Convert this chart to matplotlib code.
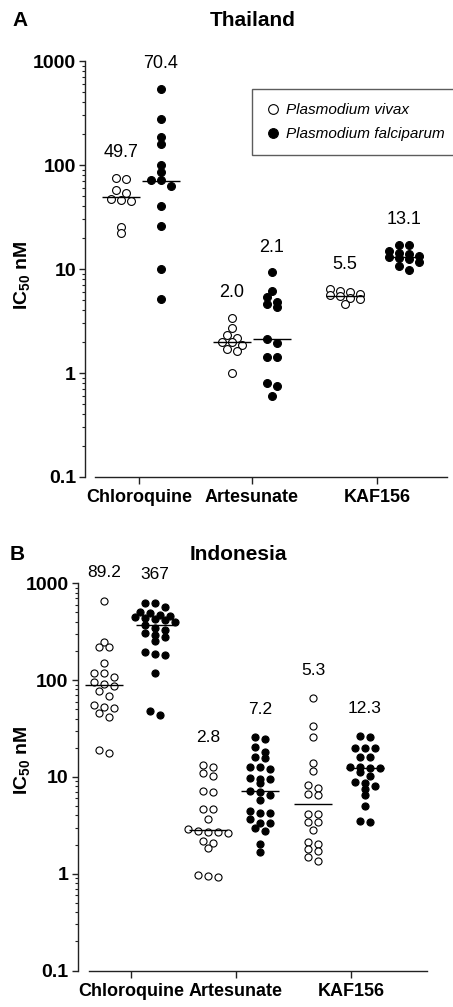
import numpy as np
import matplotlib
matplotlib.use("Agg")
import matplotlib.pyplot as plt
from matplotlib.lines import Line2D
from matplotlib.ticker import FixedLocator, LogLocator, NullFormatter

plt.rcParams["font.family"] = ["Liberation Sans", "DejaVu Sans"]
plt.rcParams["mathtext.fontset"] = "custom"
plt.rcParams["mathtext.rm"] = "Liberation Sans"
plt.rcParams["mathtext.bf"] = "Liberation Sans:bold"
plt.rcParams["mathtext.it"] = "Liberation Sans:italic"

drugs = ["Chloroquine", "Artesunate", "KAF156"]

# Panel A - Thailand (IC50, nM)
th_vivax = [
    [75.7, 73, 57, 54, 47, 46, 45, 25.5, 22.3],
    [3.4, 2.7, 2.3, 2.15, 2.0, 2.0, 1.85, 1.7, 1.62, 1.0],
    [6.4, 6.2, 6.0, 5.8, 5.6, 5.5, 5.3, 5.1, 4.6],
]
th_falc = [
    [540, 275, 186, 158, 101, 85, 71, 71, 63, 40, 26, 10, 5.1],
    [9.3, 6.2, 5.35, 4.8, 4.6, 4.3, 2.1, 1.94, 1.42, 1.42, 0.80, 0.75, 0.60],
    [17.2, 17.0, 15.0, 14.2, 14.0, 13.3, 13.1, 12.8, 12.5, 11.6, 10.8, 9.7],
]
th_med_vivax = [49.7, 2.0, 5.5]
th_med_falc = [70.4, 2.1, 13.1]
th_lab_vivax = ["49.7", "2.0", "5.5"]
th_lab_falc = ["70.4", "2.1", "13.1"]

# Panel B - Indonesia (IC50, nM)
in_vivax = [
    [661, 249, 221, 218, 149, 119, 119, 107, 96, 92, 87, 77, 68.5, 55, 53, 51,
     45.4, 41.3, 19, 17.5],
    [13.3, 12.7, 11.0, 10.2, 7.2, 7.0, 4.7, 4.7, 3.67, 2.88, 2.78, 2.72, 2.72,
     2.65, 2.18, 2.09, 1.83, 0.97, 0.95, 0.92],
    [64.9, 33.6, 26, 13.8, 11.5, 8.25, 7.6, 6.65, 6.5, 4.14, 4.14, 3.44, 3.44,
     2.83, 2.11, 2.03, 1.8, 1.73, 1.5, 1.35],
]
in_falc = [
    [631, 621, 573, 510, 490, 470, 455, 445, 440, 430, 420, 400, 367, 345, 330,
     310, 290, 280, 255, 195, 185, 180, 119, 48, 44],
    [25.6, 24.5, 20.2, 18.2, 15.9, 15.6, 12.7, 12.7, 12.0, 9.7, 9.4, 9.4, 8.6,
     7.2, 7.0, 6.5, 5.8, 4.4, 4.27, 4.27, 3.65, 3.36, 3.3, 2.94, 2.78, 2.03, 1.66],
    [26.4, 26, 19.7, 19.7, 19.7, 15.9, 15.9, 12.8, 12.6, 12.4, 12.3, 11.2, 10.2,
     8.9, 8.6, 8.1, 7.5, 6.5, 5.0, 3.53, 3.44],
]
in_med_vivax = [89.2, 2.8, 5.3]
in_med_falc = [367, 7.2, 12.3]
in_lab_vivax = ["89.2", "2.8", "5.3"]
in_lab_falc = ["367", "7.2", "12.3"]


def swarm(values, center, px_per_decade, spacing, thresh):
    # group points of similar height into rows and spread each row sideways
    vals = np.asarray(values, float)
    y = np.log10(vals) * px_per_decade
    order = np.argsort(-vals, kind="stable")
    rows = []
    for i in order:
        if rows and y[rows[-1][0]] - y[i] < thresh:
            rows[-1].append(i)
        else:
            rows.append([i])
    xs = np.zeros(len(vals))
    for row in rows:
        n = len(row)
        for k, i in enumerate(row):
            xs[i] = center + (k - (n - 1) / 2) * spacing
    return xs


def panel(ax, vivax, falc, med_v, med_f, lab_v, lab_f, ticks, cen_v, cen_f,
          xlim, xstart, ppd, msize, spacing, thresh, lab_off, lab_size):
    for i in range(3):
        for vals, cen, med, lab, face in [
            (vivax[i], cen_v[i], med_v[i], lab_v[i], "white"),
            (falc[i], cen_f[i], med_f[i], lab_f[i], "black"),
        ]:
            xs = swarm(vals, cen, ppd, spacing, thresh)
            ax.scatter(xs, vals, s=msize, facecolor=face, edgecolor="black",
                       linewidths=0.8, zorder=3, clip_on=False)
            ax.hlines(med, cen - 19, cen + 19, color="black", lw=1.0, zorder=4)
            ax.annotate(lab, (cen, max(vals)), xytext=(0, lab_off),
                        textcoords="offset points", ha="center", va="center",
                        fontsize=lab_size)
    ax.set_yscale("log")
    ax.set_ylim(0.1, 1600)
    ax.set_xlim(*xlim)
    ax.spines["top"].set_visible(False)
    ax.spines["right"].set_visible(False)
    ax.spines["left"].set_bounds(0.1, 1000)
    ax.spines["bottom"].set_bounds(xstart, xlim[1])
    for s in ["left", "bottom"]:
        ax.spines[s].set_linewidth(1.0)
        ax.spines[s].set_color("#222222")
    ax.yaxis.set_major_locator(FixedLocator([0.1, 1, 10, 100, 1000]))
    ax.set_yticklabels(["0.1", "1", "10", "100", "1000"], fontsize=14,
                       fontweight="bold")
    ax.yaxis.set_minor_locator(LogLocator(base=10, subs=np.arange(2, 10),
                                          numticks=20))
    ax.yaxis.set_minor_formatter(NullFormatter())
    ax.set_xticks(ticks)
    ax.set_xticklabels(drugs, fontsize=13, fontweight="bold")
    ax.tick_params(axis="y", which="major", length=4.5, width=1.0,
                   color="#222222", pad=2)
    ax.tick_params(axis="y", which="minor", length=2.5, width=0.8,
                   color="#222222")
    ax.tick_params(axis="x", length=5, width=1.0, color="#222222", pad=4)


fig = plt.figure(figsize=(4.53, 10.07), dpi=100)
W, H = 453, 1007

# Panel A
ax1 = fig.add_axes([85 / W, 1 - 477 / H, 362 / W, 437.2 / H])
panel(ax1, th_vivax, th_falc, th_med_vivax, th_med_falc, th_lab_vivax,
      th_lab_falc, ticks=[139, 252, 377], cen_v=[121, 232, 345],
      cen_f=[161, 272, 404], xlim=(85, 447), xstart=95, ppd=104,
      msize=32, spacing=10, thresh=6, lab_off=18, lab_size=13)
handles = [
    Line2D([], [], marker="o", ls="none", markersize=7, markerfacecolor="white",
           markeredgecolor="black", markeredgewidth=0.8),
    Line2D([], [], marker="o", ls="none", markersize=7, markerfacecolor="black",
           markeredgecolor="black", markeredgewidth=0.8),
]
leg = ax1.legend(handles, ["Plasmodium vivax", "Plasmodium falciparum"],
                 loc="upper left", bbox_to_anchor=(0.461, 0.887),
                 borderaxespad=0, frameon=True, fancybox=False,
                 prop={"style": "italic", "size": 11}, handletextpad=0.35,
                 handlelength=1.0, labelspacing=0.65, borderpad=0.9)
leg.get_frame().set_edgecolor("#333333")
leg.get_frame().set_linewidth(1.0)

# Panel B
ax2 = fig.add_axes([77.5 / W, 1 - 970.5 / H, (427 - 77.5) / W, 407 / H])
panel(ax2, in_vivax, in_falc, in_med_vivax, in_med_falc, in_lab_vivax,
      in_lab_falc, ticks=[131, 236, 351], cen_v=[104, 208, 313],
      cen_f=[155, 260, 365], xlim=(77.5, 427), xstart=89, ppd=96.8,
      msize=26, spacing=10, thresh=5, lab_off=20, lab_size=12.5)

# titles, panel letters, axis labels
fig.text(20 / W, 1 - 20 / H, "A", fontsize=15, fontweight="bold",
         ha="center", va="center")
fig.text(253 / W, 1 - 20 / H, "Thailand", fontsize=15, fontweight="bold",
         ha="center", va="center")
fig.text(17 / W, 1 - 554 / H, "B", fontsize=15, fontweight="bold",
         ha="center", va="center")
fig.text(238 / W, 1 - 554 / H, "Indonesia", fontsize=15, fontweight="bold",
         ha="center", va="center")
fig.text(22 / W, 1 - 275 / H, r"$\mathbf{IC_{50}}$ $\mathbf{nM}$", fontsize=14,
         rotation=90, ha="center", va="center")
fig.text(22 / W, 1 - 760 / H, r"$\mathbf{IC_{50}}$ $\mathbf{nM}$", fontsize=14,
         rotation=90, ha="center", va="center")

fig.savefig("out.png", dpi=100)
